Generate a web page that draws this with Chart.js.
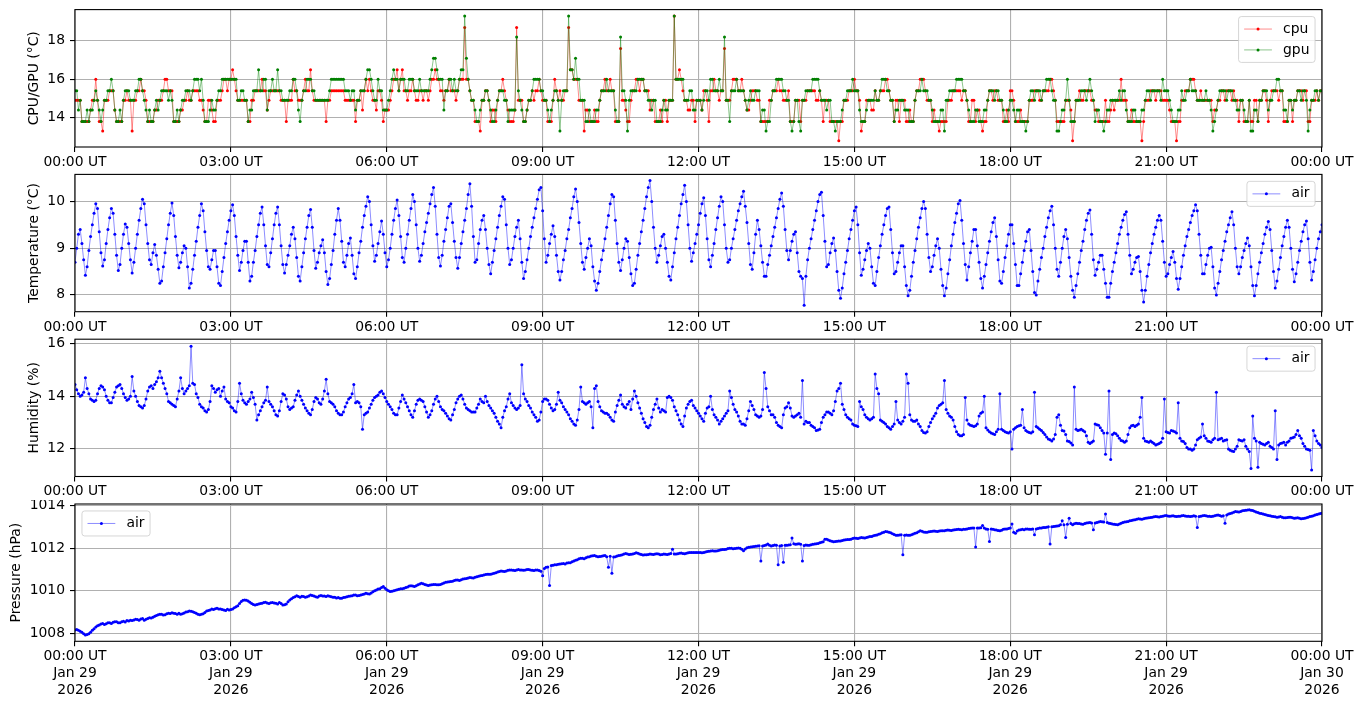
<!DOCTYPE html>
<html><head><meta charset="utf-8">
<script src="https://cdn.jsdelivr.net/npm/chart.js@4.4.1/dist/chart.umd.min.js"></script>
<style>
html,body{margin:0;padding:0;background:#fff;width:1363px;height:707px;overflow:hidden}
.panel{position:absolute;left:0;width:1363px}
canvas{display:block}
</style></head><body>
<div class="panel" style="top:0;height:170px"><canvas id="c1" width="1363" height="170"></canvas></div>
<div class="panel" style="top:170px;height:165px"><canvas id="c2" width="1363" height="165"></canvas></div>
<div class="panel" style="top:335px;height:165px"><canvas id="c3" width="1363" height="165"></canvas></div>
<div class="panel" style="top:500px;height:207px"><canvas id="c4" width="1363" height="207"></canvas></div>
<script>
// ---------- data ----------
const xTickMinutes = [0,180,360,540,720,900,1080,1260,1440];
const xTimeLabels = ['00:00 UT','03:00 UT','06:00 UT','09:00 UT','12:00 UT','15:00 UT','18:00 UT','21:00 UT','00:00 UT'];
const xDateLabels = ['Jan 29','Jan 29','Jan 29','Jan 29','Jan 29','Jan 29','Jan 29','Jan 29','Jan 30'];
const xYearLabels = ['2026','2026','2026','2026','2026','2026','2026','2026','2026'];

const cpuTicks = [14,16,18];
const tempTicks = [8,9,10];
const humTicks = [12,14,16];
const presTicks = [1008,1010,1012,1014];

const cpuStepMin = 2;
const cpuValues = [
14.9,14.9,14.9,14.9,13.8,13.8,13.8,13.8,13.8,14.4,14.9,14.9,16.0,14.9,13.8,13.8,13.3,14.9,14.9,14.9,15.4,15.4,15.4,14.4,13.8,13.8,13.8,13.8,14.9,14.9,
15.4,14.9,14.9,13.3,14.9,14.9,15.4,15.4,16.0,15.4,15.4,14.9,13.8,13.8,13.8,13.8,14.4,14.4,14.9,14.9,14.9,15.4,16.0,16.0,15.4,15.4,15.4,13.8,13.8,13.8,
13.8,14.4,14.4,14.9,14.9,15.4,14.9,14.9,15.4,15.4,15.4,15.4,14.9,14.9,14.4,13.8,13.8,14.9,14.9,14.4,13.8,13.8,14.9,14.9,14.9,15.4,16.0,16.0,15.4,16.0,
16.0,16.5,16.0,15.4,14.9,14.9,14.9,14.9,14.9,14.9,13.8,13.8,14.9,14.9,15.4,15.4,15.4,15.4,16.0,15.4,15.4,14.4,14.9,15.4,15.4,15.4,15.4,15.4,15.4,14.9,
14.9,14.9,13.8,14.9,14.9,14.9,16.0,15.4,15.4,14.9,14.9,14.9,15.4,16.0,15.4,15.4,16.5,15.4,14.9,14.9,14.9,14.9,14.9,14.9,14.9,13.8,14.9,14.9,15.4,15.4,
15.4,15.4,15.4,15.4,15.4,15.4,14.9,14.9,14.9,14.9,14.9,14.9,13.8,14.9,14.9,15.4,14.4,15.4,16.0,15.4,16.0,15.4,14.9,14.9,14.4,15.4,15.4,14.9,13.8,14.4,
14.4,14.4,14.9,15.4,16.0,16.0,16.5,15.4,16.0,16.5,15.4,15.4,14.9,15.4,15.4,16.0,15.4,14.9,14.9,15.4,15.4,14.9,15.4,15.4,14.9,15.4,16.0,16.0,16.5,16.0,
16.0,15.4,15.4,14.9,15.4,15.4,16.0,15.4,15.4,15.4,14.9,15.4,16.0,16.0,16.0,18.7,16.0,16.0,15.4,14.9,14.9,13.8,13.8,13.8,13.3,14.9,14.9,15.4,15.4,14.9,
13.8,14.4,14.4,13.8,14.9,15.4,15.4,16.0,15.4,14.9,14.4,13.8,13.8,13.8,14.4,18.7,14.9,14.9,14.9,13.8,13.8,14.4,14.9,14.9,15.4,14.9,15.4,15.4,16.0,15.4,
14.9,14.9,14.9,13.8,13.8,13.8,14.9,16.0,15.4,14.9,15.4,14.9,14.9,15.4,15.4,18.7,16.5,16.5,16.0,16.0,16.0,14.9,14.9,14.9,13.3,14.4,14.4,13.8,13.8,13.8,
14.4,13.8,13.8,14.9,15.4,15.4,16.0,15.4,15.4,16.0,15.4,15.4,13.8,13.8,13.8,17.6,14.9,14.9,14.4,13.8,13.8,14.9,15.4,15.4,16.0,16.0,15.4,16.0,16.0,15.4,
15.4,15.4,14.4,14.9,14.9,13.8,13.8,13.8,14.4,13.8,14.9,14.9,13.8,14.9,14.9,14.9,19.3,16.0,16.0,16.5,16.0,15.4,14.9,14.9,14.4,14.4,14.9,14.9,13.8,14.9,
14.9,14.9,14.4,15.4,15.4,14.9,13.8,15.4,15.4,16.0,15.4,15.4,14.9,15.4,15.4,17.6,14.9,14.9,14.9,15.4,16.0,16.0,16.0,15.4,15.4,16.0,15.4,14.9,14.4,14.4,
14.9,15.4,15.4,15.4,14.9,14.9,13.8,13.8,13.8,13.8,13.8,14.9,14.9,15.4,15.4,15.4,16.0,15.4,15.4,14.9,14.9,14.9,15.4,13.8,13.8,13.8,14.9,14.9,14.9,13.8,
14.9,14.9,14.9,15.4,15.4,15.4,15.4,15.4,14.9,14.9,15.4,14.9,13.8,14.9,14.9,14.9,13.8,13.8,13.8,13.8,13.8,12.8,13.8,13.8,14.9,14.9,14.9,15.4,15.4,15.4,
16.0,15.4,15.4,14.9,13.3,13.8,13.8,14.9,14.9,14.9,14.4,14.4,15.4,14.9,14.9,15.4,15.4,15.4,16.0,16.0,15.4,14.9,14.9,13.8,14.9,14.9,13.8,14.9,14.9,14.9,
13.8,13.8,14.4,13.8,13.8,14.9,15.4,15.4,16.0,16.0,16.0,15.4,14.9,14.9,14.9,13.8,14.4,13.8,13.8,13.3,13.8,13.8,13.8,13.8,14.9,14.9,14.9,15.4,15.4,15.4,
15.4,15.4,14.9,15.4,15.4,14.9,13.8,13.8,14.9,14.9,13.8,14.4,14.4,13.8,13.3,13.8,13.8,14.9,15.4,15.4,14.9,15.4,15.4,14.9,14.9,14.9,13.8,13.8,14.4,13.8,
15.4,15.4,14.9,13.8,13.8,13.8,14.4,13.8,13.8,13.8,13.8,14.9,14.9,14.9,15.4,15.4,15.4,14.9,14.9,15.4,15.4,15.4,15.4,16.0,16.0,15.4,14.9,13.8,13.8,13.8,
13.8,13.8,14.9,14.9,14.9,14.4,12.8,13.8,14.9,14.9,15.4,14.9,14.9,15.4,15.4,15.4,15.4,14.9,14.9,14.4,14.4,13.8,13.8,13.8,13.8,14.9,13.8,13.8,14.4,14.9,
14.4,14.9,14.9,14.9,16.0,14.9,14.9,14.9,13.8,13.8,14.4,13.8,13.8,13.8,13.8,13.8,12.8,13.8,14.9,14.9,14.9,15.4,15.4,15.4,14.9,15.4,15.4,15.4,14.9,14.9,
14.9,14.9,14.4,13.8,13.8,13.8,12.8,13.8,13.8,14.9,14.9,15.4,15.4,15.4,16.0,16.0,16.0,15.4,14.9,14.9,15.4,14.9,14.9,14.9,14.9,14.9,14.9,13.8,14.4,14.4,
14.9,14.9,15.4,15.4,14.9,15.4,15.4,15.4,14.9,15.4,14.9,14.9,13.8,14.9,14.9,13.8,13.8,13.8,14.9,13.8,13.8,14.9,14.9,13.8,14.9,14.9,15.4,15.4,14.9,13.8,
14.9,15.4,15.4,15.4,15.4,14.9,15.4,15.4,13.8,13.8,13.8,14.9,14.9,13.8,14.9,14.9,15.4,15.4,15.4,14.9,15.4,15.4,13.8,13.8,14.9,14.9,14.9,15.4,14.9,15.4,15.4
];
const gpuValues = [
15.4,15.4,14.4,14.9,13.8,13.8,13.8,14.4,13.8,14.4,14.4,14.9,15.4,14.9,14.4,13.8,14.4,14.9,14.9,15.4,15.4,16.0,15.4,14.4,13.8,13.8,14.4,13.8,14.9,15.4,
15.4,15.4,14.9,14.9,14.9,15.4,15.4,16.0,16.0,15.4,14.9,14.4,13.8,14.4,13.8,13.8,14.4,14.9,14.4,14.9,15.4,15.4,15.4,15.4,14.9,15.4,14.9,13.8,13.8,14.4,
13.8,14.4,14.9,14.9,15.4,15.4,15.4,14.9,15.4,16.0,16.0,16.0,15.4,16.0,14.9,13.8,13.8,13.8,14.4,14.9,14.4,14.4,14.9,15.4,15.4,16.0,16.0,16.0,16.0,16.0,
16.0,16.0,16.0,16.0,14.9,14.9,15.4,15.4,14.9,14.9,13.8,14.4,14.4,15.4,15.4,15.4,16.5,15.4,15.4,16.0,16.0,14.4,15.4,15.4,16.0,15.4,15.4,16.5,15.4,15.4,
14.9,14.9,14.9,14.9,15.4,15.4,16.0,16.0,15.4,14.4,13.8,14.9,15.4,15.4,16.0,16.0,16.0,15.4,15.4,14.9,14.9,14.9,14.9,14.9,14.9,14.9,14.9,15.4,16.0,16.0,
16.0,16.0,16.0,16.0,16.0,16.0,15.4,15.4,15.4,14.9,15.4,15.4,14.4,14.9,14.9,15.4,15.4,15.4,16.0,16.5,16.5,16.0,15.4,14.9,14.9,16.0,15.4,15.4,14.4,14.4,
14.4,14.9,15.4,16.0,16.5,16.0,16.0,15.4,16.0,16.0,16.0,15.4,15.4,16.0,16.0,16.0,15.4,15.4,15.4,16.0,15.4,15.4,15.4,15.4,15.4,16.0,16.5,17.1,17.1,16.5,
16.0,16.0,16.0,14.4,15.4,15.4,16.0,16.0,15.4,16.0,15.4,15.4,16.0,16.5,16.5,19.3,17.1,16.0,15.4,14.9,14.9,14.4,13.8,13.8,14.4,14.9,14.9,15.4,15.4,14.9,
14.4,13.8,13.8,14.4,14.9,15.4,15.4,15.4,14.9,14.9,13.8,14.4,14.4,14.4,14.4,18.2,15.4,14.9,14.4,13.8,13.8,14.4,14.9,14.9,15.4,16.0,16.0,16.0,16.0,15.4,
15.4,14.9,14.9,14.4,13.8,14.4,14.9,15.4,15.4,14.9,13.3,14.9,15.4,15.4,15.4,19.3,16.5,16.5,16.0,17.1,16.0,16.0,14.9,14.9,14.9,13.8,13.8,14.4,13.8,13.8,
13.8,14.4,14.4,14.9,15.4,15.4,15.4,16.0,15.4,15.4,15.4,15.4,14.4,13.8,13.8,18.2,15.4,15.4,14.9,13.3,14.9,15.4,15.4,15.4,15.4,16.0,16.0,16.0,16.0,15.4,
15.4,14.9,14.9,14.4,14.9,14.9,13.8,13.8,13.8,14.4,14.9,14.4,14.4,14.9,14.9,14.9,19.3,16.0,16.0,16.0,16.0,16.0,14.9,14.9,14.9,15.4,15.4,14.4,14.4,14.9,
14.9,14.9,14.4,14.9,15.4,15.4,14.9,16.0,16.0,15.4,15.4,15.4,16.0,15.4,15.4,18.2,14.9,14.9,13.8,15.4,15.4,15.4,16.0,15.4,15.4,15.4,15.4,14.9,14.4,14.9,
15.4,14.9,14.9,15.4,15.4,15.4,13.8,14.4,14.4,13.3,13.8,13.8,14.9,15.4,15.4,16.0,16.0,16.0,16.0,15.4,15.4,14.9,14.9,13.8,13.3,13.8,14.9,14.9,13.8,13.3,
14.9,14.9,15.4,15.4,15.4,15.4,16.0,16.0,16.0,16.0,15.4,14.9,14.9,14.9,14.4,14.9,14.9,13.8,13.8,13.3,13.8,13.8,13.8,14.4,14.9,14.9,15.4,15.4,15.4,16.0,
15.4,15.4,15.4,14.4,13.8,13.8,13.8,14.4,14.9,14.9,14.9,14.9,15.4,14.9,14.9,15.4,16.0,16.0,16.0,15.4,15.4,14.9,14.9,13.8,14.4,14.4,14.9,14.9,14.9,14.4,
14.4,14.4,13.8,13.8,13.8,14.9,15.4,15.4,15.4,16.0,15.4,15.4,15.4,14.9,14.9,14.4,13.8,13.8,13.8,13.8,14.4,14.4,13.3,14.9,14.9,15.4,15.4,15.4,15.4,16.0,
16.0,16.0,16.0,15.4,15.4,14.9,14.4,13.8,13.8,13.8,14.4,14.4,13.8,13.8,13.8,14.4,14.4,14.9,15.4,15.4,15.4,14.9,15.4,15.4,14.9,14.9,14.4,13.8,13.8,14.4,
14.9,14.9,14.4,13.8,14.4,14.4,13.8,13.8,13.8,13.3,13.8,14.9,15.4,15.4,14.9,15.4,15.4,15.4,14.9,15.4,15.4,16.0,16.0,16.0,15.4,14.9,14.9,13.3,13.3,13.8,
14.4,14.4,14.9,16.0,14.9,13.8,13.8,13.8,14.9,14.9,14.9,15.4,15.4,15.4,14.9,15.4,16.0,15.4,14.9,13.8,14.4,14.4,13.8,13.8,13.3,13.8,14.4,14.4,14.9,14.9,
14.9,14.9,14.9,15.4,14.9,15.4,15.4,14.4,13.8,13.8,13.8,14.4,14.4,13.8,13.8,13.8,14.4,14.4,14.9,15.4,15.4,14.9,15.4,15.4,15.4,15.4,15.4,14.9,16.0,15.4,
15.4,15.4,14.9,14.4,13.8,13.8,13.8,14.4,14.4,15.4,14.9,14.9,15.4,15.4,16.0,15.4,15.4,15.4,14.9,14.9,14.9,14.9,14.9,15.4,14.9,14.9,14.4,13.3,13.8,14.4,
14.9,15.4,15.4,15.4,15.4,14.9,15.4,15.4,15.4,14.9,14.9,14.4,14.4,14.9,14.9,14.4,13.8,13.8,14.9,13.3,13.3,14.4,14.4,13.8,14.9,14.9,15.4,15.4,15.4,14.4,
14.9,14.9,15.4,15.4,16.0,16.0,15.4,15.4,14.4,14.4,13.8,14.9,14.9,14.4,14.9,14.9,15.4,15.4,14.9,15.4,15.4,14.9,13.3,14.4,14.9,14.9,15.4,15.4,14.9,15.4,15.4
];

const tempStepMin = 2;
const tempValues = [
8.7,9.0,9.3,9.4,9.1,8.75,8.42,8.6,8.95,9.25,9.5,9.75,9.95,9.85,9.35,8.9,8.62,8.75,9.1,9.4,9.65,9.85,9.75,9.3,8.85,8.52,8.65,9.0,9.3,9.52,
9.45,9.1,8.75,8.47,8.7,9.0,9.3,9.6,9.85,10.05,9.95,9.5,9.1,8.75,8.65,8.9,9.08,8.85,8.55,8.25,8.3,8.6,8.9,9.2,9.5,9.75,9.97,9.7,9.25,8.85,
8.58,8.7,8.9,9.05,9.0,8.6,8.15,8.25,8.55,8.85,9.15,9.45,9.7,9.95,9.8,9.35,8.95,8.6,8.55,8.75,8.95,8.95,8.6,8.25,8.2,8.5,8.8,9.1,9.35,9.6,
9.8,9.93,9.7,9.25,8.85,8.52,8.7,8.95,9.15,9.15,8.7,8.3,8.4,8.7,8.95,9.25,9.5,9.75,9.88,9.5,9.05,8.65,8.6,8.9,9.2,9.5,9.75,9.88,9.5,9.05,
8.65,8.47,8.65,8.85,9.05,9.3,9.45,9.2,8.8,8.4,8.3,8.6,8.9,9.2,9.45,9.7,9.83,9.45,8.95,8.57,8.7,8.9,9.05,9.18,8.9,8.5,8.22,8.35,8.65,8.95,
9.3,9.6,9.85,9.6,9.15,8.7,8.6,8.85,9.1,9.22,8.85,8.45,8.35,8.6,8.9,9.15,9.45,9.7,9.9,10.1,10.0,9.5,9.05,8.72,8.85,9.1,9.35,9.58,9.3,8.9,
8.6,8.75,9.0,9.3,9.6,9.85,10.03,9.7,9.25,8.8,8.7,9.0,9.3,9.6,9.85,10.15,10.0,9.5,9.0,8.72,8.85,9.1,9.35,9.55,9.75,9.95,10.15,10.3,9.9,9.3,
8.8,8.62,8.85,9.15,9.4,9.65,9.9,9.95,9.55,9.15,8.8,8.57,8.8,9.1,9.35,9.6,9.85,10.15,10.38,9.9,9.25,8.7,8.75,9.1,9.4,9.6,9.7,9.4,9.0,8.65,
8.45,8.7,8.95,9.2,9.45,9.7,9.9,10.1,10.05,9.5,9.0,8.65,8.75,9.0,9.25,9.45,9.6,9.2,8.7,8.35,8.5,8.75,9.0,9.25,9.45,9.65,9.85,10.05,10.25,10.3,
9.8,9.2,8.7,8.85,9.1,9.3,9.48,9.25,8.85,8.5,8.32,8.5,8.75,8.95,9.2,9.4,9.65,9.85,10.1,10.27,10.0,9.55,9.1,8.7,8.55,8.8,9.0,9.2,9.05,8.6,
8.3,8.1,8.25,8.5,8.75,8.95,9.2,9.45,9.7,9.95,10.15,10.1,9.6,9.1,8.7,8.52,8.75,9.0,9.2,9.15,8.8,8.45,8.2,8.25,8.55,8.85,9.1,9.35,9.6,9.85,
10.1,10.3,10.45,10.0,9.45,9.0,8.7,8.85,9.05,9.25,9.3,9.0,8.7,8.4,8.32,8.6,8.9,9.2,9.45,9.7,9.95,10.15,10.35,10.0,9.5,9.0,8.72,8.9,9.1,9.3,
9.5,9.75,9.95,10.08,9.7,9.2,8.75,8.6,8.85,9.1,9.4,9.65,9.9,10.1,10.0,9.5,9.0,8.7,8.75,9.0,9.2,9.4,9.6,9.8,9.95,10.1,10.22,9.9,9.55,9.1,
8.65,8.55,8.9,9.3,9.6,9.4,9.05,8.7,8.4,8.4,8.65,8.85,9.05,9.25,9.45,9.65,9.85,10.05,10.18,9.9,9.4,8.95,8.75,8.95,9.15,9.3,9.35,8.9,8.5,8.4,
8.35,7.78,8.4,8.75,9.0,9.2,9.4,9.6,9.8,10.0,10.15,10.2,9.7,9.15,8.6,8.65,8.9,9.1,9.22,8.95,8.5,8.1,7.93,8.15,8.45,8.7,8.95,9.2,9.4,9.6,
9.8,9.88,9.5,8.9,8.42,8.55,8.75,8.95,9.1,9.0,8.6,8.25,8.2,8.5,8.8,9.05,9.3,9.5,9.7,9.85,9.88,9.4,8.9,8.45,8.5,8.7,8.9,9.05,9.05,8.6,
8.2,7.98,8.1,8.4,8.7,8.95,9.2,9.45,9.65,9.85,10.0,9.85,9.3,8.8,8.5,8.6,8.85,9.05,9.2,9.0,8.55,8.2,7.98,8.15,8.45,8.75,9.05,9.3,9.55,9.75,
9.95,10.02,9.6,9.1,8.65,8.32,8.6,8.9,9.15,9.4,9.4,9.05,8.7,8.35,8.15,8.4,8.65,8.9,9.15,9.35,9.55,9.65,9.25,8.75,8.3,8.25,8.5,8.8,9.05,9.3,
9.5,9.5,9.1,8.65,8.2,8.2,8.45,8.7,8.95,9.15,9.35,9.4,8.95,8.5,8.05,8.0,8.3,8.55,8.8,9.0,9.25,9.45,9.65,9.8,9.9,9.5,9.0,8.55,8.4,8.7,
9.0,9.25,9.4,9.2,8.8,8.4,8.1,7.95,8.2,8.45,8.7,8.95,9.15,9.4,9.6,9.75,9.82,9.3,8.75,8.42,8.55,8.7,8.85,8.85,8.55,8.25,7.95,7.95,8.25,8.5,
8.7,8.9,9.1,9.3,9.45,9.6,9.72,9.78,9.3,8.85,8.45,8.55,8.7,8.8,8.82,8.5,8.1,7.85,8.1,8.4,8.65,8.9,9.1,9.3,9.45,9.6,9.7,9.6,9.15,8.7,
8.4,8.45,8.65,8.8,8.93,8.7,8.35,8.12,8.35,8.6,8.85,9.05,9.25,9.4,9.55,9.7,9.8,9.93,9.8,9.3,8.85,8.45,8.45,8.65,8.85,9.0,9.02,8.6,8.15,8.0,
8.25,8.5,8.75,8.95,9.15,9.35,9.5,9.65,9.78,9.5,9.0,8.6,8.45,8.6,8.8,8.95,9.1,9.22,9.05,8.6,8.2,7.98,8.2,8.45,8.7,8.9,9.1,9.3,9.45,9.57,
9.4,8.95,8.5,8.15,8.3,8.55,8.8,9.05,9.25,9.45,9.6,9.45,9.0,8.55,8.28,8.45,8.7,8.95,9.15,9.35,9.5,9.58,9.2,8.7,8.32,8.5,8.75,9.0,9.2,9.35,9.5
];

const humStepMin = 2;
const humValues = [
14.45,14.25,14.1,14.0,14.05,14.15,14.7,14.3,14.1,13.9,13.85,13.8,13.85,14.1,14.3,14.4,14.35,14.25,14.0,13.85,13.75,13.75,13.95,14.15,14.35,14.4,14.45,14.3,14.1,13.95,
13.85,13.9,14.0,14.75,14.2,14.0,13.8,13.65,13.6,13.55,13.65,13.9,14.2,14.35,14.4,14.3,14.45,14.55,14.7,14.95,14.7,14.5,14.3,14.1,13.8,13.75,13.7,13.65,13.6,13.9,
14.2,14.7,14.3,14.1,14.2,14.3,14.4,15.9,14.5,14.45,14.1,13.95,13.7,13.6,13.55,13.45,13.4,13.5,13.8,14.4,14.3,14.15,14.25,14.3,14.0,14.2,14.35,13.9,13.8,13.75,
13.6,13.55,13.45,13.4,13.8,14.5,14.1,13.85,13.75,13.7,13.8,13.9,14.15,13.95,13.7,13.1,13.3,13.45,13.6,13.75,13.85,14.35,13.8,13.7,13.6,13.45,13.3,13.25,13.45,13.8,
14.1,14.05,13.9,13.6,13.5,13.55,13.6,13.85,14.05,14.2,14.0,13.85,13.7,13.55,13.45,13.35,13.3,13.5,13.8,13.95,13.9,13.75,13.7,13.9,14.2,14.65,14.1,13.8,13.75,13.7,
13.6,13.45,13.35,13.3,13.3,13.4,13.6,13.75,13.9,13.95,14.1,14.45,13.75,13.8,13.75,13.6,12.75,13.3,13.35,13.4,13.55,13.7,13.85,13.95,14.0,14.05,14.15,14.2,14.1,13.95,
13.8,13.7,13.6,13.5,13.35,13.3,13.3,13.55,13.8,14.05,13.9,13.75,13.6,13.45,13.3,13.2,13.45,13.7,13.85,13.9,13.85,13.8,13.6,13.4,13.2,13.3,13.45,13.7,13.9,14.0,
13.8,13.6,13.5,13.45,13.35,13.25,13.15,13.1,13.3,13.5,13.75,13.9,14.0,14.05,13.9,13.7,13.55,13.5,13.45,13.4,13.4,13.4,13.55,13.7,13.9,13.8,13.75,14.0,13.8,13.65,
13.55,13.45,13.35,13.2,13.05,12.95,12.8,13.2,13.45,13.6,13.9,14.1,13.75,13.65,13.55,13.5,13.55,13.65,15.2,14.1,13.9,13.8,13.65,13.55,13.4,13.3,13.2,13.05,13.1,13.4,
13.8,13.9,13.9,13.85,13.7,13.55,13.45,13.5,13.7,14.15,13.85,13.75,13.6,13.5,13.4,13.3,13.15,13.05,12.95,12.9,13.1,13.5,14.35,13.8,13.75,13.7,13.75,13.8,13.6,12.8,
14.3,14.4,13.8,13.6,13.45,13.4,13.35,13.35,13.3,13.2,13.1,13.05,13.4,13.65,13.85,14.05,13.7,13.6,13.55,13.7,13.8,13.5,13.9,14.2,14.0,13.75,13.55,13.35,13.15,13.0,
12.85,12.8,12.9,13.2,13.5,13.7,13.9,13.55,13.4,13.5,13.45,13.4,13.95,14.0,13.95,13.85,13.6,13.45,13.3,13.1,12.95,12.85,13.25,13.55,13.7,13.8,13.85,13.65,13.55,13.45,
13.35,13.25,13.15,13.05,13.35,13.55,13.6,14.0,13.5,13.3,13.2,13.1,12.95,13.05,13.15,13.25,13.35,13.45,14.2,13.95,13.7,13.5,13.4,13.25,13.05,12.95,12.95,12.9,13.15,13.45,
13.8,13.65,13.5,13.3,13.25,13.2,13.25,13.5,14.9,14.3,13.6,13.45,13.3,13.3,13.2,13.0,12.9,12.85,12.8,13.3,13.55,13.6,13.75,13.55,13.25,13.2,13.25,13.3,13.35,13.2,
14.6,12.95,13.05,13.0,13.0,12.9,12.85,12.8,12.7,12.72,12.75,13.0,13.2,13.3,13.4,13.4,13.35,13.3,13.45,13.8,14.2,14.3,14.5,13.7,13.5,13.3,13.2,13.15,13.1,12.95,
12.9,12.88,12.85,13.8,13.6,13.5,13.3,13.2,13.15,13.1,13.15,13.2,14.85,14.3,14.1,13.1,13.05,13.0,12.95,12.85,12.8,12.75,12.85,12.95,13.8,13.1,13.0,12.95,13.05,13.2,
14.85,14.5,13.3,13.1,13.05,13.05,13.1,12.95,12.85,12.7,12.62,12.6,12.65,12.85,13.0,13.15,13.25,13.35,13.55,13.65,13.7,13.75,14.6,13.5,13.35,13.25,13.2,13.1,12.85,12.65,
12.55,12.5,12.5,12.55,13.95,13.1,12.95,12.9,12.88,12.85,12.88,12.95,13.25,13.35,13.4,14.0,12.8,12.72,12.65,12.6,12.58,12.55,12.65,12.75,14.1,12.75,12.7,12.65,12.62,12.6,
12.65,12.0,12.75,12.8,12.85,12.88,12.9,13.5,12.8,12.7,12.65,12.62,12.6,12.65,14.15,12.85,12.8,12.75,12.7,12.62,12.55,12.45,12.38,12.35,12.3,12.38,12.55,13.2,13.3,12.9,
12.7,12.68,12.55,12.3,12.28,12.22,12.15,14.35,12.75,12.7,12.72,12.75,12.7,12.65,12.5,12.25,12.2,12.25,12.3,12.95,12.92,12.9,12.8,12.7,12.6,11.8,12.6,14.2,11.6,12.55,
12.6,12.58,12.5,12.4,12.32,12.3,12.25,12.3,12.55,12.8,12.88,12.9,12.85,12.9,12.95,13.2,13.95,12.4,12.3,12.28,12.25,12.3,12.25,12.2,12.15,12.18,12.2,12.25,12.4,13.9,
12.65,12.62,12.6,12.7,12.68,12.65,12.6,13.75,12.4,12.3,12.28,12.2,12.05,12.0,12.0,11.95,12.0,12.15,12.35,12.4,12.45,12.95,12.5,12.4,12.3,12.28,12.25,12.35,12.4,14.15,
12.35,12.38,12.4,12.3,12.33,12.35,12.0,11.95,11.92,11.9,12.0,12.1,12.35,12.32,12.3,12.35,12.1,12.0,11.9,11.25,13.25,12.4,12.3,11.3,12.25,12.2,12.18,12.15,12.2,12.25,
12.1,12.05,12.0,13.45,11.6,12.15,12.2,12.22,12.25,12.15,12.25,12.3,12.4,12.42,12.45,12.55,12.7,12.5,12.4,12.2,12.1,12.0,11.98,11.95,11.2,12.7,12.5,12.3,12.2,12.15,12.05
];

const presStepMin = 2;
const presValues = [
1008.16,1008.18,1008.15,1008.1,1008.05,1007.98,1007.93,1007.95,1007.98,1008.05,1008.15,1008.22,1008.3,1008.36,1008.4,1008.44,1008.47,1008.42,1008.45,1008.5,1008.5,1008.47,1008.52,1008.55,1008.55,1008.5,1008.5,1008.55,1008.57,1008.54,
1008.6,1008.58,1008.62,1008.6,1008.63,1008.66,1008.65,1008.62,1008.68,1008.7,1008.62,1008.66,1008.7,1008.74,1008.72,1008.76,1008.8,1008.84,1008.87,1008.9,1008.9,1008.86,1008.88,1008.92,1008.95,1008.93,1008.97,1008.95,1008.93,1008.9,
1008.94,1008.9,1008.92,1008.96,1009.0,1009.02,1009.05,1009.04,1009.02,1008.98,1008.95,1008.9,1008.87,1008.9,1008.92,1008.98,1009.05,1009.08,1009.1,1009.14,1009.12,1009.16,1009.18,1009.15,1009.15,1009.12,1009.1,1009.08,1009.13,1009.1,
1009.12,1009.15,1009.2,1009.25,1009.3,1009.4,1009.5,1009.55,1009.57,1009.55,1009.52,1009.46,1009.4,1009.36,1009.33,1009.36,1009.38,1009.4,1009.42,1009.45,1009.46,1009.43,1009.4,1009.44,1009.45,1009.43,1009.41,1009.38,1009.45,1009.4,
1009.33,1009.35,1009.38,1009.48,1009.57,1009.63,1009.68,1009.72,1009.77,1009.73,1009.7,1009.74,1009.73,1009.7,1009.72,1009.76,1009.8,1009.78,1009.76,1009.72,1009.7,1009.75,1009.78,1009.76,1009.75,1009.73,1009.77,1009.74,1009.72,1009.7,
1009.7,1009.66,1009.68,1009.65,1009.65,1009.68,1009.7,1009.72,1009.74,1009.76,1009.77,1009.8,1009.8,1009.77,1009.78,1009.8,1009.82,1009.85,1009.88,1009.86,1009.85,1009.9,1009.95,1010.0,1010.04,1010.08,1010.1,1010.15,1010.2,1010.12,
1010.05,1010.0,1009.96,1009.98,1010.0,1010.03,1010.05,1010.07,1010.09,1010.1,1010.12,1010.15,1010.18,1010.22,1010.24,1010.22,1010.2,1010.24,1010.28,1010.32,1010.35,1010.33,1010.3,1010.27,1010.25,1010.27,1010.28,1010.3,1010.3,1010.28,
1010.28,1010.3,1010.33,1010.37,1010.4,1010.41,1010.42,1010.44,1010.45,1010.48,1010.51,1010.5,1010.48,1010.52,1010.55,1010.56,1010.58,1010.6,1010.62,1010.61,1010.6,1010.63,1010.66,1010.68,1010.7,1010.72,1010.74,1010.76,1010.78,1010.77,
1010.78,1010.8,1010.82,1010.85,1010.88,1010.9,1010.93,1010.92,1010.9,1010.93,1010.96,1010.97,1010.98,1010.96,1010.95,1010.97,1011.0,1010.98,1010.97,1010.96,1010.98,1011.0,1011.0,1010.98,1010.96,1010.95,1010.98,1010.97,1010.95,1010.92,
1010.7,1011.05,1011.1,1011.12,1010.25,1011.18,1011.2,1011.22,1011.22,1011.24,1011.25,1011.27,1011.28,1011.26,1011.3,1011.31,1011.32,1011.36,1011.4,1011.43,1011.45,1011.5,1011.53,1011.52,1011.5,1011.55,1011.58,1011.6,1011.63,1011.64,
1011.65,1011.62,1011.6,1011.61,1011.62,1011.64,1011.66,1011.6,1011.1,1011.62,1010.82,1011.58,1011.6,1011.63,1011.65,1011.67,1011.69,1011.72,1011.75,1011.72,1011.7,1011.71,1011.72,1011.75,1011.78,1011.76,1011.73,1011.7,1011.68,1011.69,
1011.69,1011.7,1011.72,1011.71,1011.7,1011.72,1011.74,1011.72,1011.69,1011.7,1011.72,1011.71,1011.7,1011.72,1011.75,1011.95,1011.73,1011.72,1011.74,1011.76,1011.77,1011.75,1011.74,1011.76,1011.78,1011.79,1011.8,1011.8,1011.79,1011.8,
1011.8,1011.79,1011.78,1011.8,1011.82,1011.84,1011.85,1011.87,1011.88,1011.87,1011.86,1011.88,1011.9,1011.92,1011.93,1011.94,1011.95,1011.98,1012.0,1011.99,1011.97,1011.98,1012.0,1012.01,1012.0,1011.95,1011.88,1011.96,1012.02,1012.04,
1012.05,1012.06,1012.08,1012.09,1012.1,1012.11,1011.4,1012.1,1012.12,1012.15,1012.19,1012.14,1012.1,1012.12,1012.15,1012.13,1011.22,1012.1,1012.12,1011.34,1012.13,1012.14,1012.15,1012.16,1012.47,1012.2,1012.18,1012.19,1012.2,1012.18,
1011.4,1012.12,1012.15,1012.14,1012.13,1012.16,1012.18,1012.19,1012.2,1012.22,1012.25,1012.28,1012.3,1012.42,1012.42,1012.38,1012.35,1012.32,1012.3,1012.31,1012.32,1012.33,1012.34,1012.36,1012.38,1012.39,1012.4,1012.41,1012.42,1012.45,
1012.47,1012.46,1012.45,1012.48,1012.5,1012.49,1012.48,1012.5,1012.52,1012.54,1012.55,1012.58,1012.6,1012.62,1012.65,1012.68,1012.72,1012.75,1012.78,1012.77,1012.75,1012.72,1012.68,1012.64,1012.6,1012.6,1012.62,1012.63,1011.69,1012.6,
1012.62,1012.61,1012.6,1012.63,1012.66,1012.7,1012.72,1012.77,1012.81,1012.79,1012.76,1012.75,1012.75,1012.77,1012.78,1012.79,1012.8,1012.79,1012.78,1012.8,1012.81,1012.82,1012.82,1012.84,1012.85,1012.84,1012.83,1012.85,1012.86,1012.87,
1012.88,1012.87,1012.86,1012.88,1012.89,1012.9,1012.92,1012.93,1012.94,1012.95,1012.05,1012.94,1012.95,1012.96,1013.06,1012.95,1012.9,1012.88,1012.31,1012.9,1012.88,1012.86,1012.85,1012.83,1012.81,1012.84,1012.88,1012.9,1012.9,1012.92,
1012.95,1013.13,1012.75,1012.7,1012.8,1012.85,1012.86,1012.88,1012.86,1012.9,1012.9,1012.89,1012.88,1012.9,1012.63,1012.9,1012.92,1012.94,1012.95,1012.97,1012.97,1012.98,1013.0,1012.19,1013.0,1013.02,1013.03,1013.04,1013.05,1013.1,
1013.28,1013.1,1012.5,1013.12,1013.4,1013.15,1013.1,1013.14,1013.17,1013.16,1013.15,1013.13,1013.12,1013.15,1013.18,1013.19,1013.2,1013.18,1012.86,1013.18,1013.2,1013.22,1013.25,1013.24,1013.22,1013.6,1013.2,1013.17,1013.15,1013.13,
1013.12,1013.11,1013.1,1013.13,1013.17,1013.2,1013.22,1013.24,1013.25,1013.28,1013.3,1013.32,1013.33,1013.36,1013.38,1013.37,1013.35,1013.38,1013.4,1013.41,1013.42,1013.44,1013.45,1013.47,1013.48,1013.47,1013.46,1013.48,1013.5,1013.52,
1013.53,1013.51,1013.5,1013.51,1013.52,1013.5,1013.48,1013.49,1013.5,1013.52,1013.53,1013.51,1013.5,1013.49,1013.48,1013.5,1013.52,1013.5,1012.97,1013.48,1013.5,1013.52,1013.53,1013.52,1013.5,1013.49,1013.48,1013.5,1013.52,1013.54,
1013.55,1013.53,1013.5,1013.52,1013.17,1013.55,1013.6,1013.62,1013.65,1013.68,1013.72,1013.71,1013.7,1013.72,1013.75,1013.77,1013.78,1013.79,1013.8,1013.78,1013.76,1013.73,1013.7,1013.67,1013.64,1013.62,1013.6,1013.58,1013.55,1013.53,
1013.52,1013.5,1013.48,1013.47,1013.45,1013.46,1013.48,1013.45,1013.42,1013.43,1013.44,1013.45,1013.45,1013.42,1013.4,1013.41,1013.42,1013.4,1013.38,1013.39,1013.4,1013.42,1013.45,1013.48,1013.5,1013.52,1013.55,1013.58,1013.6,1013.62,1013.64
];

// ---------- rendering ----------
const FS = 13.9;
Chart.defaults.font.family = '"DejaVu Sans", sans-serif';
Chart.defaults.font.size = FS;
Chart.defaults.color = '#000';
Chart.defaults.animation = false;

const toXY = (vals, step) => vals.map((v, i) => ({x: i * step, y: v}));

const spines = {
  id: 'spines',
  afterDatasetsDraw(chart) {
    const {ctx, chartArea: a} = chart;
    ctx.save();
    ctx.strokeStyle = '#000';
    ctx.lineWidth = 1.1;
    ctx.strokeRect(a.left, a.top, a.right - a.left, a.bottom - a.top);
    ctx.restore();
  }
};

const mplLegend = {
  id: 'mplLegend',
  afterDraw(chart, args, opts) {
    const ctx = chart.ctx, a = chart.chartArea;
    const items = chart.data.datasets;
    ctx.save();
    ctx.font = FS + 'px "DejaVu Sans"';
    const pad = 0.4 * FS, sp = 0.5 * FS, hl = 2 * FS, htp = 0.8 * FS, axpad = 0.5 * FS;
    const tw = Math.max(...items.map(d => ctx.measureText(d.label).width));
    const w = 2 * pad + hl + htp + tw;
    const h = 2 * pad + items.length * FS + (items.length - 1) * sp;
    const x0 = opts.loc === 'upper left' ? a.left + axpad : a.right - axpad - w;
    const y0 = a.top + axpad;
    const r = 0.2 * FS;
    ctx.beginPath();
    ctx.moveTo(x0 + r, y0);
    ctx.lineTo(x0 + w - r, y0); ctx.quadraticCurveTo(x0 + w, y0, x0 + w, y0 + r);
    ctx.lineTo(x0 + w, y0 + h - r); ctx.quadraticCurveTo(x0 + w, y0 + h, x0 + w - r, y0 + h);
    ctx.lineTo(x0 + r, y0 + h); ctx.quadraticCurveTo(x0, y0 + h, x0, y0 + h - r);
    ctx.lineTo(x0, y0 + r); ctx.quadraticCurveTo(x0, y0, x0 + r, y0);
    ctx.closePath();
    ctx.fillStyle = 'rgba(255,255,255,0.8)';
    ctx.fill();
    ctx.strokeStyle = 'rgba(204,204,204,0.8)';
    ctx.lineWidth = 1;
    ctx.stroke();
    items.forEach((d, k) => {
      const cy = y0 + pad + k * (FS + sp) + FS / 2;
      const lx = x0 + pad;
      ctx.beginPath();
      ctx.moveTo(lx, cy); ctx.lineTo(lx + hl, cy);
      ctx.strokeStyle = d.borderColor; ctx.lineWidth = d.borderWidth;
      ctx.stroke();
      ctx.beginPath();
      ctx.arc(lx + hl / 2, cy, d.pointRadius, 0, Math.PI * 2);
      ctx.fillStyle = d.pointBackgroundColor; ctx.fill();
      ctx.fillStyle = '#000';
      ctx.textBaseline = 'middle';
      ctx.textAlign = 'left';
      ctx.fillText(d.label, lx + hl + htp, cy);
    });
    ctx.restore();
  }
};

function series(label, data, dot, line, order) {
  return {label, data, order, borderColor: line, borderWidth: 0.9,
    pointRadius: 1.5, pointBackgroundColor: dot, pointBorderColor: dot, pointBorderWidth: 0,
    pointHoverRadius: 0, tension: 0, fill: false};
}

const gridOpts = {color: '#b0b0b0', lineWidth: 1.1, tickColor: '#000', tickWidth: 1.1, tickLength: 5};

function makeChart(id, geo, datasets, yTicks, yMin, yMax, yTitle, xLabel, legendLoc, titlePad) {
  const padTop = geo.areaTop - geo.top;
  const xAxisH = geo.top + geo.height - geo.areaBottom;
  return new Chart(document.getElementById(id), {
    type: 'line',
    data: {datasets},
    options: {
      responsive: false, animation: false, events: [],
      layout: {padding: {top: padTop, right: 1363 - 1322, bottom: 0, left: 0}},
      plugins: {legend: {display: false}, tooltip: {enabled: false}, mplLegend: {loc: legendLoc}},
      scales: {
        x: {
          type: 'linear', min: 0, max: 1440,
          afterBuildTicks: s => { s.ticks = xTickMinutes.map(v => ({value: v})); },
          afterFit: s => { s.height = xAxisH; s.paddingLeft = 0; s.paddingRight = 0; },
          ticks: {autoSkip: false, maxRotation: 0, minRotation: 0, padding: 2, callback: (v, i) => xLabel(i)},
          grid: gridOpts, border: {display: false}
        },
        y: {
          type: 'linear', min: yMin, max: yMax,
          afterBuildTicks: s => { s.ticks = yTicks.map(v => ({value: v})); },
          afterFit: s => { s.width = 75; s.paddingTop = 0; s.paddingBottom = 0; },
          ticks: {padding: 5, callback: v => String(v)},
          grid: gridOpts, border: {display: false},
          title: {display: true, text: yTitle, padding: {top: titlePad, bottom: 0}}
        }
      }
    },
    plugins: [spines, mplLegend]
  });
}

const timeOnly = i => xTimeLabels[i];
const fullLabel = i => [xTimeLabels[i], xDateLabels[i], xYearLabels[i]];

makeChart('c1', {top: 0, height: 170, areaTop: 9.6, areaBottom: 147},
  [series('cpu', toXY(cpuValues, cpuStepMin), '#ff0000', 'rgba(255,0,0,0.5)', 1),
   series('gpu', toXY(gpuValues, cpuStepMin), '#008000', 'rgba(0,128,0,0.5)', 0)],
  cpuTicks, 12.47, 19.63, 'CPU/GPU (°C)', timeOnly, 'upper right', 25.7);

makeChart('c2', {top: 170, height: 165, areaTop: 174.4, areaBottom: 311.7},
  [series('air', toXY(tempValues, tempStepMin), '#0000ff', 'rgba(0,0,255,0.5)', 0)],
  tempTicks, 7.64, 10.58, 'Temperature (°C)', timeOnly, 'upper right', 25.7);

makeChart('c3', {top: 335, height: 165, areaTop: 339.2, areaBottom: 476.5},
  [series('air', toXY(humValues, humStepMin), '#0000ff', 'rgba(0,0,255,0.5)', 0)],
  humTicks, 10.95, 16.17, 'Humidity (%)', timeOnly, 'upper right', 25.7);

makeChart('c4', {top: 500, height: 207, areaTop: 504, areaBottom: 641.3},
  [series('air', toXY(presValues, presStepMin), '#0000ff', 'rgba(0,0,255,0.5)', 0)],
  presTicks, 1007.63, 1014.07, 'Pressure (hPa)', fullLabel, 'upper left', 7.7);
</script>
</body></html>
